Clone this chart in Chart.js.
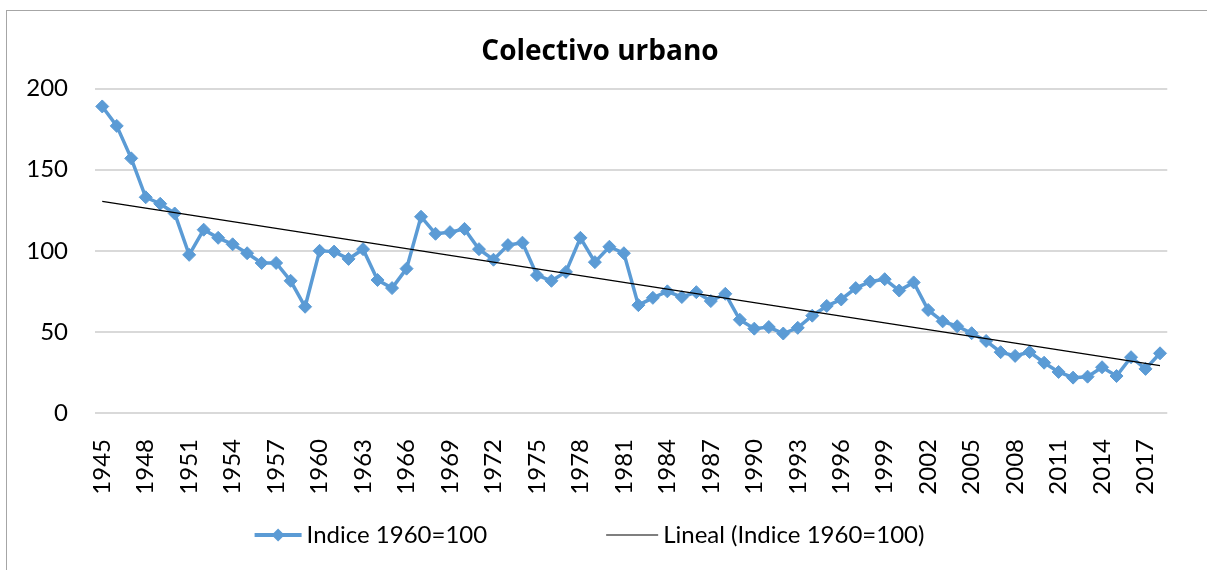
<!DOCTYPE html>
<html>
<head>
<meta charset="utf-8">
<script src="https://cdn.jsdelivr.net/npm/chart.js@4/dist/chart.umd.min.js"></script>
<style>
    body { margin: 0; background: #fff; overflow: hidden; }
    #wrap { position: relative; width: 1207px; height: 570px; }
    #frame {
        position: absolute; left: 6px; top: 10px; width: 1300px; height: 700px;
        border-top: 1px solid #a6a6a6; border-left: 1px solid #a6a6a6;
        pointer-events: none;
    }
</style>
</head>
<body>
<div id="wrap">
    <canvas id="busChart" width="1207" height="570"></canvas>
    <div id="frame"></div>
</div>
<script>
// data
const firstYear = 1945;
const lastYear = 2018;
const years = Array.from({ length: lastYear - firstYear + 1 }, (_, i) => String(firstYear + i));

const indexValues = [
    189, 177, 157, 133, 129, 123, 97.5, 113, 108, 104,      // 1945-1954
    98.5, 92.5, 92.5, 81.5, 65.5, 100, 99.5, 95, 101, 82,   // 1955-1964
    77, 89, 121, 110.5, 111.5, 113.5, 101, 94.5, 103.5, 105, // 1965-1974
    85, 81.5, 87, 108, 93, 102.5, 98.5, 66.5, 71, 75,       // 1975-1984
    71.5, 74.5, 69, 73.5, 57.5, 52, 53, 49, 52.5, 60,       // 1985-1994
    66, 70, 77, 81, 82.5, 75.5, 80.5, 63.5, 56.5, 53.5,     // 1995-2004
    49.2, 44.4, 37.5, 35.2, 37.6, 31, 25.3, 21.8, 22.4, 28.2, // 2005-2014
    22.8, 34.4, 27.2, 36.8                                   // 2015-2018
];

const yTicks = [0, 50, 100, 150, 200];
const seriesLabel = "Indice 1960=100";
const trendLabel = "Lineal (Indice 1960=100)";

// linear trend (least squares), like Excel's "Lineal" trendline
function linearTrend(values) {
    const n = values.length;
    let sx = 0, sy = 0, sxy = 0, sxx = 0;
    values.forEach((v, i) => { sx += i; sy += v; sxy += i * v; sxx += i * i; });
    const slope = (n * sxy - sx * sy) / (n * sxx - sx * sx);
    const icpt = (sy - slope * sx) / n;
    return values.map((v, i) => icpt + slope * i);
}
const trendValues = linearTrend(indexValues);

const blue = "#5b9bd5";
const fontFamily = "Lato, 'Open Sans', sans-serif";

// legend drawn Excel-style (line sample + marker, then text)
const excelLegend = {
    id: "excelLegend",
    afterDraw(chart) {
        const ctx = chart.ctx;
        const y = chart.height - 35;
        ctx.save();
        ctx.font = "24px " + fontFamily;
        ctx.textBaseline = "middle";
        const w1 = ctx.measureText(seriesLabel).width;
        const w2 = ctx.measureText(trendLabel).width;
        const total = 47 + 5 + w1 + 119 + 52 + 5 + w2;
        let x = chart.width / 2 - 14 - total / 2;

        ctx.strokeStyle = blue;
        ctx.lineWidth = 4;
        ctx.beginPath();
        ctx.moveTo(x, y);
        ctx.lineTo(x + 47, y);
        ctx.stroke();
        ctx.fillStyle = blue;
        ctx.beginPath();
        ctx.moveTo(x + 23.5, y - 6.5);
        ctx.lineTo(x + 30, y);
        ctx.lineTo(x + 23.5, y + 6.5);
        ctx.lineTo(x + 17, y);
        ctx.closePath();
        ctx.fill();
        x += 52;
        ctx.fillStyle = "#000";
        ctx.fillText(seriesLabel, x, y);
        x += w1 + 119;

        ctx.strokeStyle = "#000";
        ctx.lineWidth = 1.2;
        ctx.beginPath();
        ctx.moveTo(x, y);
        ctx.lineTo(x + 52, y);
        ctx.stroke();
        x += 57;
        ctx.fillText(trendLabel, x, y);
        ctx.restore();
    }
};

new Chart(document.getElementById("busChart"), {
    type: "line",
    data: {
        labels: years,
        datasets: [
            {
                label: trendLabel,
                data: trendValues,
                borderColor: "#000",
                borderWidth: 1.3,
                pointRadius: 0,
                tension: 0,
                order: 0
            },
            {
                label: seriesLabel,
                data: indexValues,
                borderColor: blue,
                backgroundColor: blue,
                borderWidth: 3.5,
                pointStyle: "rectRot",
                pointRadius: 6.5,
                pointBorderWidth: 1,
                pointBackgroundColor: blue,
                pointBorderColor: blue,
                tension: 0,
                order: 1
            }
        ]
    },
    options: {
        responsive: false,
        animation: false,
        layout: {
            padding: { left: 20, right: 27, top: 0, bottom: 0 }
        },
        plugins: {
            legend: { display: false },
            tooltip: { enabled: false },
            title: {
                display: true,
                text: "Colectivo urbano",
                color: "#000",
                font: { family: "'Open Sans', Lato, sans-serif", size: 28, weight: "bold" },
                padding: { top: 35, bottom: 20 }
            }
        },
        scales: {
            x: {
                offset: true,
                grid: { display: false },
                border: { display: false },
                afterFit: function (scale) { scale.height = 157; },
                ticks: {
                    autoSkip: false,
                    minRotation: 90,
                    maxRotation: 90,
                    padding: 18,
                    color: "#000",
                    font: { family: fontFamily, size: 24 },
                    callback: function (value, index) {
                        return index % 3 === 0 ? this.getLabelForValue(value) : "";
                    }
                }
            },
            y: {
                min: 0,
                max: 200,
                afterFit: function (scale) { scale.width = 75; },
                afterBuildTicks: function (scale) {
                    scale.ticks = yTicks.map(v => ({ value: v }));
                },
                grid: { color: "#d9d9d9", lineWidth: 2, drawTicks: false },
                border: { display: false },
                ticks: {
                    padding: 27,
                    color: "#000",
                    font: { family: fontFamily, size: 24 }
                }
            }
        }
    },
    plugins: [excelLegend]
});
</script>
</body>
</html>
